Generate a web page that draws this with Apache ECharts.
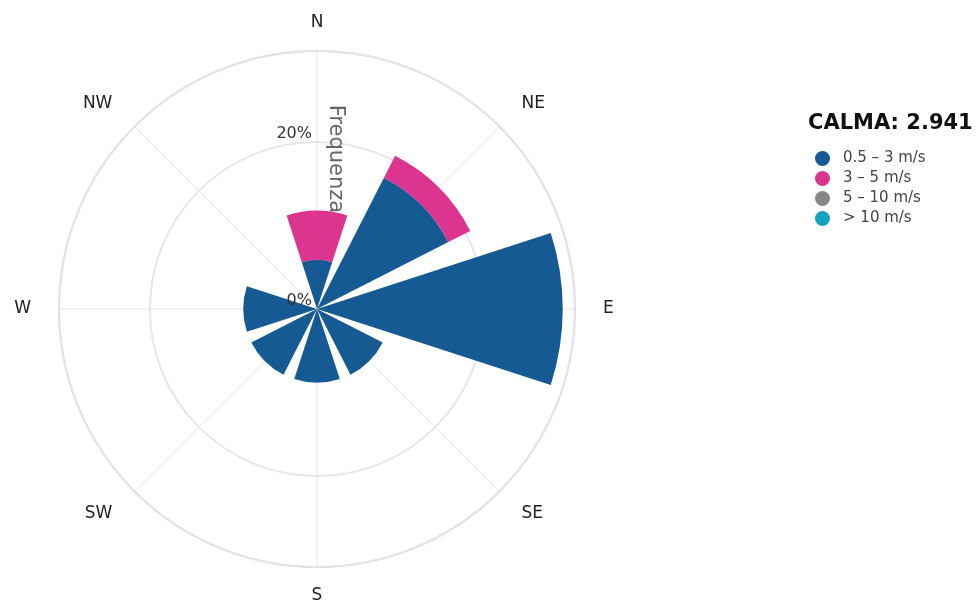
<!DOCTYPE html>
<html>
<head>
<meta charset="utf-8">
<script src="https://cdn.jsdelivr.net/npm/echarts@6/dist/echarts.min.js"></script>
<style>
  html, body { margin: 0; padding: 0; background: #fff; }
  #chart { width: 976px; height: 605px; }
</style>
</head>
<body>
<div id="chart"></div>
<script>
// direzioni (in senso orario da nord)
const directions = ['N', 'NE', 'E', 'SE', 'S', 'SW', 'W', 'NW'];
// frequenze in % per classe di velocità
const speed_0_5_3 = [5.882, 17.647, 29.412, 8.824, 8.824, 8.824, 8.824, 0];
const speed_3_5 = [5.882, 2.941, 0, 0, 0, 0, 0, 0];
const speed_5_10 = [0, 0, 0, 0, 0, 0, 0, 0];
const speed_10 = [0, 0, 0, 0, 0, 0, 0, 0];
const classNames = ['0.5 – 3 m/s', '3 – 5 m/s', '5 – 10 m/s', '> 10 m/s'];
const classColors = ['#165a94', '#dc3590', '#878787', '#16a2be'];
const calma = 2.941;
const radiusMax = 30.88;

const FONT = 'DejaVu Sans';
const CENTER = [317, 309];
const RADIUS = 258;

let chart = echarts.init(document.getElementById('chart'));
let seriesData = [speed_0_5_3, speed_3_5, speed_5_10, speed_10];

let option = {
  animation: false,
  title: {
    text: 'CALMA: ' + calma,
    left: 803,
    top: 108,
    textStyle: {
      fontFamily: FONT,
      fontSize: 21,
      fontWeight: 'bold',
      color: '#111'
    }
  },
  legend: {
    orient: 'vertical',
    left: 810,
    top: 146,
    icon: 'circle',
    itemWidth: 15,
    itemHeight: 15,
    itemGap: 5,
    textStyle: {
      fontFamily: FONT,
      fontSize: 15,
      color: '#444',
      padding: [0, 0, 0, 8]
    },
    data: classNames
  },
  // polar 0: barre ed etichette direzioni, polar 1: griglia, polar 2: etichette %
  polar: [
    { center: CENTER, radius: RADIUS },
    { center: CENTER, radius: RADIUS },
    { center: CENTER, radius: RADIUS }
  ],
  angleAxis: [{
    polarIndex: 0,
    type: 'category',
    data: directions,
    startAngle: 90 + 22.5,
    boundaryGap: true,
    axisLine: { show: false },
    axisTick: { show: false },
    splitLine: { show: false },
    axisLabel: {
      margin: 20,
      padding: [0, 8],
      fontFamily: FONT,
      fontSize: 17,
      color: '#222'
    }
  }, {
    polarIndex: 1,
    type: 'category',
    data: directions,
    startAngle: 90,
    boundaryGap: true,
    axisLine: {
      show: true,
      lineStyle: { color: '#e2e2e8', width: 2 }
    },
    axisTick: { show: false },
    axisLabel: { show: false },
    splitLine: {
      show: true,
      lineStyle: { color: '#e6e6ec', width: 1 }
    }
  }, {
    polarIndex: 2,
    type: 'category',
    data: directions,
    startAngle: 90,
    show: false
  }],
  radiusAxis: [{
    polarIndex: 0,
    min: 0,
    max: radiusMax,
    show: false
  }, {
    polarIndex: 1,
    min: 0,
    max: radiusMax,
    interval: 20,
    axisLine: { show: false },
    axisTick: { show: false },
    axisLabel: { show: false },
    splitLine: {
      show: true,
      lineStyle: { color: '#e6e6ec', width: 2 }
    }
  }, {
    polarIndex: 2,
    min: 0,
    max: radiusMax,
    interval: 20,
    z: 10,
    name: 'Frequenza',
    nameLocation: 'middle',
    nameGap: 8,
    nameRotate: -90,
    nameTextStyle: {
      fontFamily: FONT,
      fontSize: 21,
      color: '#666',
      padding: [0, 42, 0, 0]
    },
    axisLine: { show: false },
    axisTick: { show: false },
    axisLabel: {
      showMaxLabel: false,
      formatter: '{value}%',
      fontFamily: FONT,
      fontSize: 16,
      color: '#333',
      margin: 5,
      verticalAlign: 'bottom'
    },
    splitLine: { show: false }
  }],
  series: classNames.map(function(name, i) {
    return {
      name: name,
      type: 'bar',
      coordinateSystem: 'polar',
      polarIndex: 0,
      stack: 'vento',
      barCategoryGap: '20%',
      color: classColors[i],
      data: seriesData[i]
    };
  })
};

chart.setOption(option);
</script>
</body>
</html>
